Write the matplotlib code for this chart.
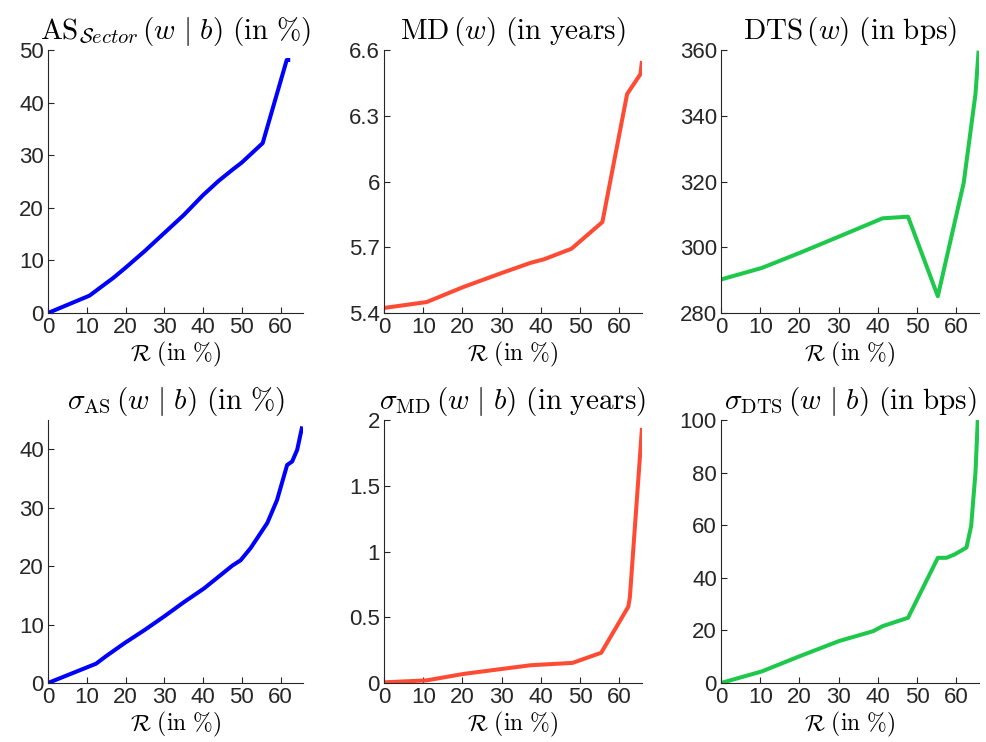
import matplotlib
matplotlib.use("Agg")
import matplotlib.pyplot as plt

plt.rcParams['mathtext.fontset'] = 'cm'
plt.rcParams['font.family'] = ['Liberation Sans', 'DejaVu Sans']

# readings, R in %
r_as = [0, 10.7, 16.9, 20, 25, 29.7, 35, 40, 44, 47.7, 50, 55.4, 61.6, 62.5]
as_sector = [0, 3.3, 6.7, 8.6, 11.8, 15.0, 18.6, 22.4, 25.1, 27.3, 28.6, 32.3, 48.1, 48.1]

r_md = [0, 10.9, 20.3, 30.1, 37.4, 40.8, 47.8, 55.7, 62.0, 65.4, 65.8]
md = [5.423, 5.45, 5.519, 5.583, 5.629, 5.645, 5.693, 5.815, 6.399, 6.49, 6.55]

r_dts = [0, 10.4, 20.1, 30.0, 41.2, 47.7, 55.3, 61.9, 64.9, 65.7]
dts = [290.2, 293.7, 298.3, 303.2, 308.8, 309.3, 285.1, 319.6, 346.6, 359.8]

r_sas = [0, 12.4, 15, 19.7, 25, 30, 35, 40.3, 47.6, 49.7, 52.3, 56.6, 59.1, 61.7, 63.0, 64.3, 65.6]
sigma_as = [0, 3.3, 4.6, 6.8, 9.1, 11.4, 13.8, 16.2, 20.1, 21.0, 23.1, 27.4, 31.3, 37.3, 37.9, 39.9, 43.9]

r_smd = [0, 10.9, 20.3, 30.1, 37.4, 48.1, 55.4, 62.3, 62.7, 65.8]
sigma_md = [0.005, 0.02, 0.069, 0.107, 0.135, 0.153, 0.23, 0.58, 0.65, 1.94]

r_sdts = [0, 10.4, 20.1, 30.0, 38.8, 41.2, 47.7, 51.5, 55.3, 57.5, 59.6, 62.6, 63.8, 64.9, 65.5]
sigma_dts = [0, 4.4, 10.2, 15.9, 19.7, 21.6, 24.8, 36.2, 47.6, 47.6, 48.9, 51.5, 59.7, 80.0, 100.4]

blue = '#0000ff'
red = '#ff4b33'
green = '#1ec84b'

panels = [
    (r_as, as_sector, blue, r'$\mathrm{AS}_{\mathcal{S}ector}\,(w\ |\ b)\ \mathrm{(in\ \%)}$',
     (0, 50), [0, 10, 20, 30, 40, 50], ['0', '10', '20', '30', '40', '50']),
    (r_md, md, red, r'$\mathrm{MD}\,(w)\ \mathrm{(in\ years)}$',
     (5.4, 6.6), [5.4, 5.7, 6.0, 6.3, 6.6], ['5.4', '5.7', '6', '6.3', '6.6']),
    (r_dts, dts, green, r'$\mathrm{DTS}\,(w)\ \mathrm{(in\ bps)}$',
     (280, 360), [280, 300, 320, 340, 360], ['280', '300', '320', '340', '360']),
    (r_sas, sigma_as, blue, r'$\sigma_{\mathrm{AS}}\,(w\ |\ b)\ \mathrm{(in\ \%)}$',
     (0, 45), [0, 10, 20, 30, 40], ['0', '10', '20', '30', '40']),
    (r_smd, sigma_md, red, r'$\sigma_{\mathrm{MD}}\,(w\ |\ b)\ \mathrm{(in\ years)}$',
     (0, 2), [0, 0.5, 1, 1.5, 2], ['0', '0.5', '1', '1.5', '2']),
    (r_sdts, sigma_dts, green, r'$\sigma_{\mathrm{DTS}}\,(w\ |\ b)\ \mathrm{(in\ bps)}$',
     (0, 100), [0, 20, 40, 60, 80, 100], ['0', '20', '40', '60', '80', '100']),
]

fig = plt.figure(figsize=(9.87, 7.42), dpi=100)

lefts = [48 / 987, 384 / 987, 721 / 987]
widths = [255 / 987, 258 / 987, 258 / 987]
bottoms = [1 - 313 / 742, 1 - 683 / 742]
height = 263 / 742

for i, (x, y, col, title, ylim, yt, ytl) in enumerate(panels):
    row, c = divmod(i, 3)
    ax = fig.add_axes([lefts[c], bottoms[row], widths[c], height])
    ax.plot(x, y, color=col, lw=2.9, solid_capstyle='butt')
    ax.set_xlim(0, 65.8)
    ax.set_ylim(*ylim)
    ax.set_xticks([0, 10, 20, 30, 40, 50, 60])
    ax.set_yticks(yt)
    ax.set_yticklabels(ytl)
    ax.spines['top'].set_visible(False)
    ax.spines['right'].set_visible(False)
    for s in ('left', 'bottom'):
        ax.spines[s].set_color('#262626')
        ax.spines[s].set_linewidth(0.8)
    ax.tick_params(direction='in', length=4, width=0.8, colors='#262626',
                   labelsize=16, pad=3)
    ax.set_title(title, fontsize=21, pad=8)
    ax.set_xlabel(r'$\mathcal{R}\ \mathrm{(in\ \%)}$', fontsize=17, labelpad=1)

fig.savefig('out.png', dpi=100)
